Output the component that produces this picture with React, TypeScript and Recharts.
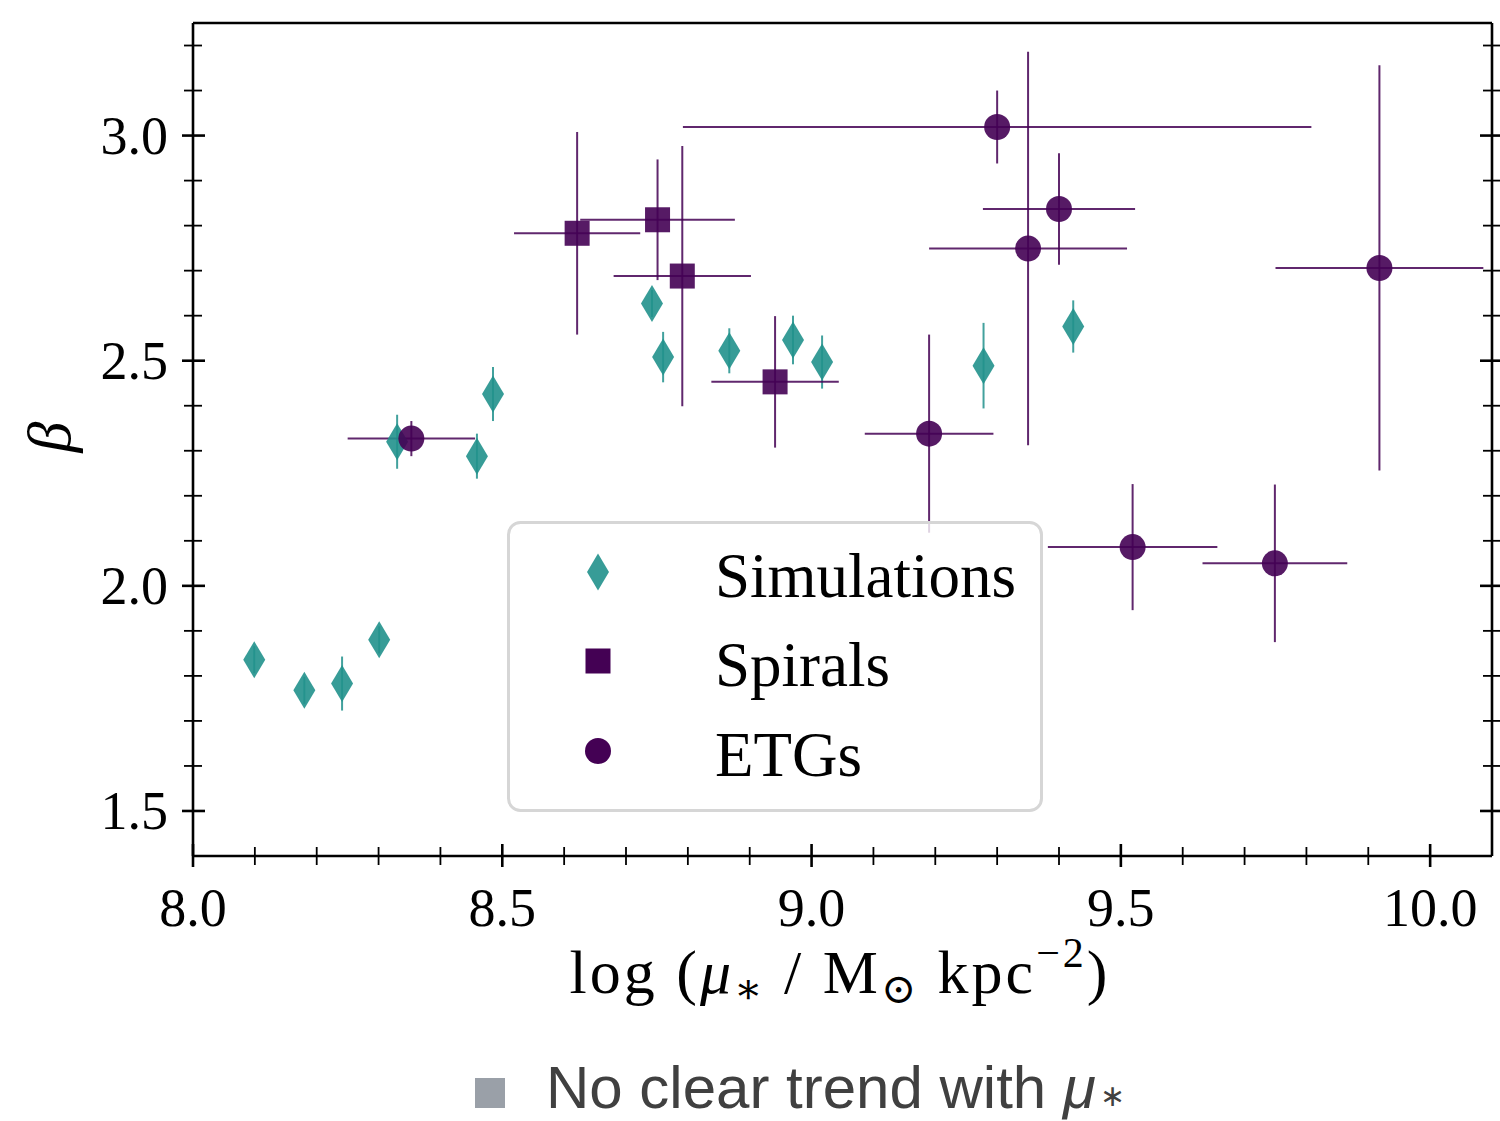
import React from 'react';
import { ScatterChart, Scatter, XAxis, YAxis, ErrorBar, Legend } from 'recharts';

// ---------- data ----------
const simX = [8.099, 8.180, 8.241, 8.301, 8.330, 8.459, 8.485, 8.742, 8.760, 8.867, 8.970, 9.017, 9.278, 9.423];
const simY = [1.836, 1.768, 1.783, 1.880, 2.320, 2.288, 2.426, 2.627, 2.508, 2.522, 2.546, 2.497, 2.489, 2.576];
const simYErr = [0.03, 0.03, 0.06, 0.03, 0.06, 0.05, 0.06, 0.03, 0.056, 0.05, 0.054, 0.059, 0.095, 0.058];

const spiralX = [8.621, 8.751, 8.791, 8.941];
const spiralY = [2.783, 2.813, 2.688, 2.453];
const spiralXErr = [0.102, 0.125, 0.111, 0.103];
const spiralYErr = [0.225, 0.134, 0.289, 0.146];

const etgX = [8.353, 9.190, 9.300, 9.350, 9.400, 9.519, 9.749, 9.918];
const etgY = [2.327, 2.338, 3.019, 2.749, 2.837, 2.086, 2.050, 2.706];
const etgXErr = [0.103, 0.104, 0.508, 0.160, 0.123, 0.137, 0.117, 0.168];
const etgYErr = [0.039, 0.22, 0.081, 0.437, 0.124, 0.14, 0.175, 0.45];

const xTicks = [8.0, 8.1, 8.2, 8.3, 8.4, 8.5, 8.6, 8.7, 8.8, 8.9, 9.0, 9.1, 9.2, 9.3, 9.4, 9.5, 9.6, 9.7, 9.8, 9.9, 10.0];
const xMajor = [8.0, 8.5, 9.0, 9.5, 10.0];
const yTicks = [1.5, 1.6, 1.7, 1.8, 1.9, 2.0, 2.1, 2.2, 2.3, 2.4, 2.5, 2.6, 2.7, 2.8, 2.9, 3.0, 3.1, 3.2];
const yMajor = [1.5, 2.0, 2.5, 3.0];

const seriesNames = ['Simulations', 'Spirals', 'ETGs'];
const noteText = 'No clear trend with ';

// ---------- styling ----------
const TEAL = '#21918c';
const PURPLE = '#440154';
const SERIF = '"Liberation Serif", "DejaVu Serif", serif';
const SANS = '"Liberation Sans", Arial, sans-serif';

const simData = simX.map((x, i) => ({ x, y: simY[i], ye: simYErr[i] }));
const spiralData = spiralX.map((x, i) => ({ x, y: spiralY[i], xe: spiralXErr[i], ye: spiralYErr[i] }));
const etgData = etgX.map((x, i) => ({ x, y: etgY[i], xe: etgXErr[i], ye: etgYErr[i] }));

const isMajor = (v: number, majors: number[]) => majors.some((m) => Math.abs(m - v) < 1e-6);

const DiamondShape = (p: any) => {
  const { cx, cy } = p;
  return (
    <path
      d={`M${cx},${cy - 18.5} L${cx + 11},${cy} L${cx},${cy + 18.5} L${cx - 11},${cy} Z`}
      fill={TEAL}
      fillOpacity={0.9}
    />
  );
};
const SquareShape = (p: any) => {
  const { cx, cy } = p;
  return <rect x={cx - 12.5} y={cy - 12.5} width={25} height={25} fill={PURPLE} fillOpacity={0.9} />;
};
const CircleShape = (p: any) => {
  const { cx, cy } = p;
  return <circle cx={cx} cy={cy} r={13} fill={PURPLE} fillOpacity={0.9} />;
};

const BottomTick = (p: any) => {
  const { x, y, payload } = p;
  const major = isMajor(payload.value, xMajor);
  return (
    <g>
      <line x1={x} x2={x} y1={y - (major ? 12 : 9)} y2={y + (major ? 11 : 9)} stroke="#000" strokeWidth={major ? 2.6 : 1.8} />
      {major && (
        <text x={x} y={y + 70} textAnchor="middle" fontFamily={SERIF} fontSize={54} fill="#000">
          {payload.value.toFixed(1)}
        </text>
      )}
    </g>
  );
};
const TopTick = (p: any) => {
  const { x, y, payload } = p;
  const major = isMajor(payload.value, xMajor);
  return <line x1={x} x2={x} y1={y - (major ? 11 : 9)} y2={y + (major ? 12 : 9)} stroke="#000" strokeWidth={major ? 2.6 : 1.8} />;
};
const LeftTick = (p: any) => {
  const { x, y, payload } = p;
  const major = isMajor(payload.value, yMajor);
  return (
    <g>
      <line x1={x - (major ? 11 : 9)} x2={x + (major ? 12 : 9)} y1={y} y2={y} stroke="#000" strokeWidth={major ? 2.6 : 1.8} />
      {major && (
        <text x={x - 25} y={y + 18} textAnchor="end" fontFamily={SERIF} fontSize={54} fill="#000">
          {payload.value.toFixed(1)}
        </text>
      )}
    </g>
  );
};
const RightTick = (p: any) => {
  const { x, y, payload } = p;
  const major = isMajor(payload.value, yMajor);
  return <line x1={x - (major ? 12 : 9)} x2={x + (major ? 11 : 9)} y1={y} y2={y} stroke="#000" strokeWidth={major ? 2.6 : 1.8} />;
};

const XLabel = () => (
  <text x={840} y={993} textAnchor="middle" fontFamily={SERIF} fontSize={62} letterSpacing={3} fill="#000">
    <tspan>log (</tspan>
    <tspan fontStyle="italic">μ</tspan>
    <tspan fontSize={42} dy={10}>∗</tspan>
    <tspan dy={-10}> / M</tspan>
    <tspan fontSize={42} dy={10}>⊙</tspan>
    <tspan dy={-10}> kpc</tspan>
    <tspan fontSize={42} dy={-26}>−2</tspan>
    <tspan dy={26}>)</tspan>
  </text>
);
const YLabel = () => (
  <text x={0} y={0} transform="translate(70,437) rotate(-90)" textAnchor="middle" fontFamily={SERIF} fontStyle="italic" fontSize={62} fill="#000">
    β
  </text>
);

const LegendMarker = ({ name, cx, cy }: { name: string; cx: number; cy: number }) => {
  if (name === 'Simulations') return <DiamondShape cx={cx} cy={cy} />;
  if (name === 'Spirals') return <rect x={cx - 12.5} y={cy - 12.5} width={25} height={25} fill={PURPLE} />;
  return <circle cx={cx} cy={cy} r={13} fill={PURPLE} />;
};

const LegendBox = () => {
  const rows = [51, 140, 230];
  const base = [76, 165, 255];
  return (
    <svg width={536} height={291} style={{ display: 'block' }}>
      <rect x={1.5} y={1.5} width={533} height={288} rx={12} ry={12} fill="#ffffff" fillOpacity={0.8} stroke="#d6d6d6" strokeWidth={3} />
      {seriesNames.map((n, i) => (
        <g key={n}>
          <LegendMarker name={n} cx={91} cy={rows[i]} />
          <text x={208} y={base[i]} fontFamily={SERIF} fontSize={63} fill="#000">
            {n}
          </text>
        </g>
      ))}
    </svg>
  );
};

export default function App() {
  return (
    <div style={{ position: 'absolute', left: 0, top: 0, width: 1500, height: 1121, background: '#fff' }}>
      <ScatterChart width={1500} height={1121} margin={{ top: 22, right: 7, bottom: 205, left: 93 }}>
        <XAxis
          xAxisId="b"
          dataKey="x"
          type="number"
          domain={[8.0, 10.1]}
          allowDataOverflow
          ticks={xTicks}
          interval={0}
          orientation="bottom"
          height={60}
          tickSize={0}
          tickMargin={0}
          tickLine={false}
          axisLine={{ stroke: '#000', strokeWidth: 2.6 }}
          tick={<BottomTick />}
          label={{ content: () => <XLabel /> }}
        />
        <XAxis
          xAxisId="t"
          type="number"
          domain={[8.0, 10.1]}
          allowDataOverflow
          ticks={xTicks}
          interval={0}
          orientation="top"
          height={1}
          tickSize={0}
          tickMargin={0}
          tickLine={false}
          axisLine={{ stroke: '#000', strokeWidth: 2.6 }}
          tick={<TopTick />}
        />
        <YAxis
          yAxisId="l"
          dataKey="y"
          type="number"
          domain={[1.4, 3.25]}
          allowDataOverflow
          ticks={yTicks}
          interval={0}
          orientation="left"
          width={100}
          tickSize={0}
          tickMargin={0}
          tickLine={false}
          axisLine={{ stroke: '#000', strokeWidth: 2.6 }}
          tick={<LeftTick />}
          label={{ content: () => <YLabel /> }}
        />
        <YAxis
          yAxisId="r"
          type="number"
          domain={[1.4, 3.25]}
          allowDataOverflow
          ticks={yTicks}
          interval={0}
          orientation="right"
          width={1}
          tickSize={0}
          tickMargin={0}
          tickLine={false}
          axisLine={{ stroke: '#000', strokeWidth: 2.6 }}
          tick={<RightTick />}
        />
        <Scatter name="Simulations" data={simData} xAxisId="b" yAxisId="l" shape={<DiamondShape />} isAnimationActive={false}>
          <ErrorBar dataKey="ye" direction="y" width={0} stroke={TEAL} strokeOpacity={0.85} strokeWidth={2} isAnimationActive={false} />
        </Scatter>
        <Scatter name="Spirals" data={spiralData} xAxisId="b" yAxisId="l" shape={<SquareShape />} isAnimationActive={false}>
          <ErrorBar dataKey="xe" direction="x" width={0} stroke={PURPLE} strokeOpacity={0.85} strokeWidth={2} isAnimationActive={false} />
          <ErrorBar dataKey="ye" direction="y" width={0} stroke={PURPLE} strokeOpacity={0.85} strokeWidth={2} isAnimationActive={false} />
        </Scatter>
        <Scatter name="ETGs" data={etgData} xAxisId="b" yAxisId="l" shape={<CircleShape />} isAnimationActive={false}>
          <ErrorBar dataKey="xe" direction="x" width={0} stroke={PURPLE} strokeOpacity={0.85} strokeWidth={2} isAnimationActive={false} />
          <ErrorBar dataKey="ye" direction="y" width={0} stroke={PURPLE} strokeOpacity={0.85} strokeWidth={2} isAnimationActive={false} />
        </Scatter>
        <Legend
          layout="vertical"
          align="center"
          verticalAlign="middle"
          content={() => <LegendBox />}
          wrapperStyle={{ position: 'absolute', left: 507, top: 521, width: 536, height: 291 }}
        />
      </ScatterChart>
      <div style={{ position: 'absolute', left: 475, top: 1078, width: 30, height: 30, background: '#9aa0a8' }} />
      <div
        style={{
          position: 'absolute',
          left: 546,
          top: 1054,
          fontFamily: SANS,
          fontSize: 60,
          lineHeight: '67px',
          color: '#404040',
          whiteSpace: 'nowrap',
        }}
      >
        {noteText}
        <span style={{ fontStyle: 'italic' }}>μ</span>
        <span style={{ fontSize: 30, lineHeight: '30px', position: 'relative', top: -2, marginLeft: 4 }}>∗</span>
      </div>
    </div>
  );
}
